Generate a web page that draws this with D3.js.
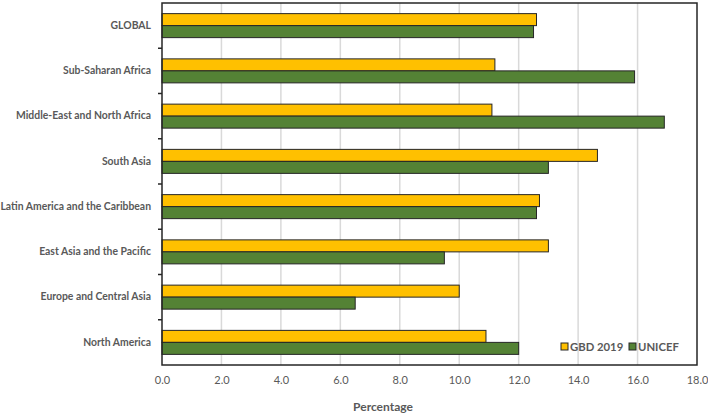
<!DOCTYPE html>
<html>
<head>
<meta charset="utf-8">
<script src="https://cdn.jsdelivr.net/npm/d3@7"></script>
<style>
  body { margin: 0; background: #fff; }
  text { font-family: Lato, "Open Sans", sans-serif; fill: #595959; }
</style>
</head>
<body>
<div id="chart"></div>
<script>
// regions, top to bottom
var regions = ["GLOBAL", "Sub-Saharan Africa", "Middle-East and North Africa", "South Asia",
    "Latin America and the Caribbean", "East Asia and the Pacific", "Europe and Central Asia", "North America"];
var gbd2019 = [12.6, 11.2, 11.1, 14.65, 12.7, 13.0, 10.0, 10.9];
var unicef = [12.5, 15.9, 16.9, 13.0, 12.6, 9.5, 6.5, 12.0];
var seriesNames = ["GBD 2019", "UNICEF"];
var seriesColors = ["#FFC000", "#548235"];
var xTicks = [0, 2, 4, 6, 8, 10, 12, 14, 16, 18];

var chartW = 708, chartH = 416;
var plotLeft = 162, plotRight = 697, plotTop = 3, plotBottom = 365;

var svg = d3.select("#chart").append("svg")
    .attr("width", chartW)
    .attr("height", chartH);

var x = d3.scaleLinear().domain([0, 18]).range([plotLeft, plotRight]);
var y = d3.scaleBand().domain(regions).range([plotTop, plotBottom]);

// gridlines
svg.append("g").selectAll("line")
    .data(xTicks.slice(1, -1))
    .enter().append("line")
    .attr("x1", function(d) { return x(d); })
    .attr("x2", function(d) { return x(d); })
    .attr("y1", plotTop)
    .attr("y2", plotBottom)
    .style("stroke", "#d9d9d9")
    .style("stroke-width", 1.5);

var barH = 12;
var data = regions.map(function(r, i) { return { region: r, vals: [gbd2019[i], unicef[i]] }; });

var groups = svg.append("g").selectAll("g")
    .data(data)
    .enter().append("g")
    .attr("transform", function(d) { return "translate(0," + (y(d.region) + y.bandwidth() / 2 - barH) + ")"; });

groups.selectAll("rect")
    .data(function(d) { return d.vals; })
    .enter().append("rect")
    .attr("x", x(0))
    .attr("y", function(d, i) { return i * barH; })
    .attr("width", function(d) { return x(d) - x(0); })
    .attr("height", barH)
    .style("fill", function(d, i) { return seriesColors[i]; })
    .style("stroke", "#262626")
    .style("stroke-width", 1);

// frame
svg.append("rect")
    .attr("x", plotLeft)
    .attr("y", plotTop)
    .attr("width", plotRight - plotLeft)
    .attr("height", plotBottom - plotTop)
    .style("fill", "none")
    .style("stroke", "#262626")
    .style("stroke-width", 1.5);

// y axis labels
var yAxis = d3.axisLeft(y).tickSize(0).tickPadding(11);
var gy = svg.append("g")
    .attr("transform", "translate(" + plotLeft + ",0)")
    .call(yAxis);
gy.select(".domain").remove();
gy.selectAll("text")
    .style("font-size", "10.4px")
    .style("font-weight", "bold");

// small ticks between categories
svg.append("g").selectAll("line")
    .data(regions.slice(1))
    .enter().append("line")
    .attr("x1", plotLeft - 4)
    .attr("x2", plotLeft)
    .attr("y1", function(d) { return y(d); })
    .attr("y2", function(d) { return y(d); })
    .style("stroke", "#262626")
    .style("stroke-width", 1.5);

// x axis labels
var xAxis = d3.axisBottom(x).tickValues(xTicks).tickSize(0).tickPadding(11)
    .tickFormat(d3.format(".1f"));
var gx = svg.append("g")
    .attr("transform", "translate(0," + plotBottom + ")")
    .call(xAxis);
gx.select(".domain").remove();
gx.selectAll("text").style("font-size", "11px");

svg.append("text")
    .attr("x", 383)
    .attr("y", 411)
    .attr("text-anchor", "middle")
    .style("font-size", "12px")
    .style("font-weight", "bold")
    .text("Percentage");

// legend
var legendX = [561, 629];
var legend = svg.append("g").selectAll("g")
    .data(seriesNames)
    .enter().append("g")
    .attr("transform", function(d, i) { return "translate(" + legendX[i] + ",343)"; });

legend.append("rect")
    .attr("width", 7)
    .attr("height", 7)
    .style("fill", function(d, i) { return seriesColors[i]; })
    .style("stroke", "#262626")
    .style("stroke-width", 1);

legend.append("text")
    .attr("x", 9)
    .attr("y", 4)
    .attr("dy", "0.35em")
    .style("font-size", "11.3px")
    .style("font-weight", "bold")
    .text(function(d) { return d; });
</script>
</body>
</html>
